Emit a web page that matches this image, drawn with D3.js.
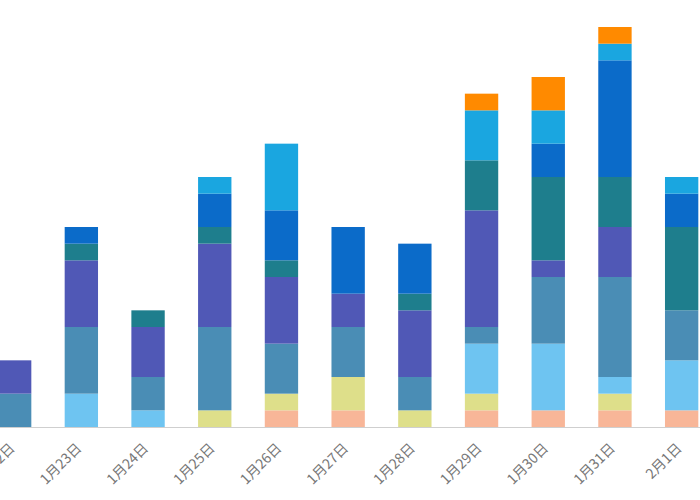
<!DOCTYPE html>
<html>
<head>
<meta charset="utf-8">
<script src="https://cdn.jsdelivr.net/npm/d3@7/dist/d3.min.js"></script>
<style>
  html, body { margin: 0; padding: 0; background: #fff; overflow: hidden; }
  svg { display: block; }
</style>
</head>
<body>
<svg id="chart" width="700" height="500"></svg>
<script>
const categories = ["1月22日","1月23日","1月24日","1月25日","1月26日","1月27日","1月28日","1月29日","1月30日","1月31日","2月1日"];
const seriesNames = ["s1","s2","s3","s4","s5","s6","s7","s8","s9"];
const s1 = [0,0,0,0,1,1,0,1,1,1,1];
const s2 = [0,0,0,1,1,2,1,1,0,1,0];
const s3 = [0,2,1,0,0,0,0,3,4,1,3];
const s4 = [2,4,2,5,3,3,2,1,4,6,3];
const s5 = [2,4,3,5,4,2,4,7,1,3,0];
const s6 = [0,1,1,1,1,0,1,3,5,3,5];
const s7 = [0,1,0,2,3,4,3,0,2,7,2];
const s8 = [0,0,0,1,4,0,0,3,2,1,1];
const s9 = [0,0,0,0,0,0,0,1,2,1,0];
const seriesValues = [s1,s2,s3,s4,s5,s6,s7,s8,s9];
const colors = ["#F8B698","#DEDF8A","#6EC4F1","#4A8DB5","#5058B6","#1E7E8D","#0B6BC9","#1AA6E0","#FF8A00"];

const rows = categories.map((c, i) => {
  const r = { cat: c };
  seriesNames.forEach((s, j) => r[s] = seriesValues[j][i]);
  return r;
});

const svg = d3.select("#chart");
const x = d3.scaleBand().domain(categories).range([-18.7, 715]).paddingInner(0.5).paddingOuter(0.25);
const y = d3.scaleLinear().domain([0, 24]).range([427, 27]);
const color = d3.scaleOrdinal().domain(seriesNames).range(colors);

const stack = d3.stack().keys(seriesNames)(rows);

svg.append("g").selectAll("g")
  .data(stack).join("g")
  .attr("fill", d => color(d.key))
  .selectAll("rect")
  .data(d => d).join("rect")
  .attr("x", d => x(d.data.cat))
  .attr("width", x.bandwidth())
  .attr("y", d => y(d[1]))
  .attr("height", d => y(d[0]) - y(d[1]));

const axis = svg.append("g")
  .attr("transform", "translate(0,427)")
  .call(d3.axisBottom(x).tickSize(0).tickPadding(0));
axis.select(".domain").attr("stroke", "#cfcfcf").attr("d", "M0,0.5H700");
axis.selectAll("text")
  .attr("fill", "#777")
  .style("font-family", "'Noto Sans CJK SC', 'Noto Sans', sans-serif")
  .style("font-size", "14px")
  .attr("text-anchor", "end")
  .attr("dy", "0")
  .attr("transform", "translate(1,22) rotate(-45)");
</script>
</body>
</html>
